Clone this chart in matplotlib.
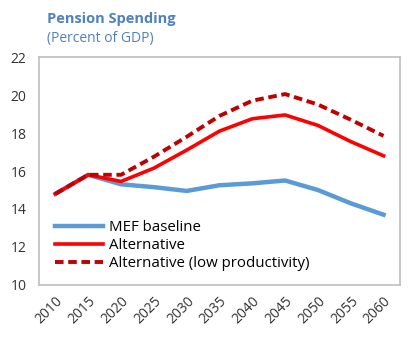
import numpy as np
from matplotlib import pyplot as plt

plt.rcParams['font.family'] = ['Open Sans', 'DejaVu Sans']

years = ['2010', '2015', '2020', '2025', '2030', '2035', '2040', '2045', '2050', '2055', '2060']
mef_baseline = [14.8, 15.8, 15.3, 15.15, 14.95, 15.25, 15.35, 15.5, 15.0, 14.3, 13.7]
alternative = [14.8, 15.8, 15.45, 16.15, 17.1, 18.1, 18.75, 18.95, 18.4, 17.55, 16.8]
alt_low_prod = [14.8, 15.8, 15.8, 16.75, 17.8, 18.9, 19.7, 20.05, 19.5, 18.7, 17.85]

x = np.arange(len(years))

fig = plt.figure(figsize=(4.12, 3.47), dpi=100)
ax = fig.add_axes([0.0947, 0.1787, 0.876, 0.657])

ax.plot(x, mef_baseline, color='#5B9BD5', lw=3.2, label='MEF baseline')
ax.plot(x, alternative, color='#FF0000', lw=2.6, label='Alternative')
ax.plot(x, alt_low_prod, color='#C00000', lw=2.8, ls=(0, (2.2, 1.2)), label='Alternative (low productivity)')

ax.set_xlim(-0.5, len(years) - 0.5)
ax.set_ylim(10, 22)
ax.set_yticks(range(10, 23, 2))
ax.set_xticks(x)
ax.set_xticklabels(years, rotation=45, ha='right', rotation_mode='anchor')
ax.tick_params(length=0, labelsize=10, colors='#333333')
ax.tick_params(axis='x', pad=6)
ax.tick_params(axis='y', pad=9)
for s in ax.spines.values():
    s.set_color('#BFBFBF')
    s.set_linewidth(1.2)

ax.legend(loc='lower left', bbox_to_anchor=(0.02, 0.02), frameon=False, fontsize=10.8,
          handlelength=3.2, handletextpad=0.4, labelspacing=0.2, borderaxespad=0.2)

fig.text(0.114, 0.925, 'Pension Spending', color='#4F81BD', fontsize=10.5, fontweight='bold', va='bottom')
fig.text(0.114, 0.868, '(Percent of GDP)', color='#4F81BD', fontsize=10, va='bottom')

fig.savefig('out.png', dpi=100)
